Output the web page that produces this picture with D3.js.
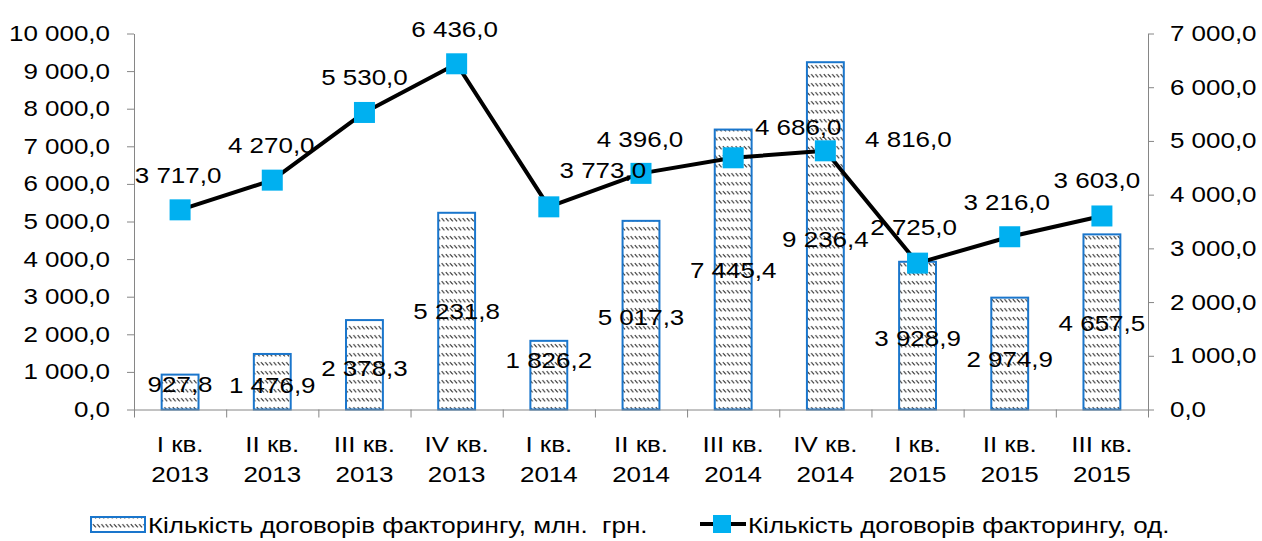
<!DOCTYPE html>
<html><head><meta charset="utf-8">
<script src="https://cdn.jsdelivr.net/npm/d3@7"></script>
<style>
body{margin:0;background:#fff}
svg{display:block}
text{font-family:"Liberation Sans",Arial,sans-serif;font-size:22px;fill:#000}
</style>
</head><body>
<svg id="c" width="1262" height="541"></svg>
<script>
// ---- data ----
const categories = ["I кв. 2013","II кв. 2013","III кв. 2013","IV кв. 2013","I кв. 2014","II кв. 2014","III кв. 2014","IV кв. 2014","I кв. 2015","II кв. 2015","III кв. 2015"];
const amountValues = [927.8,1476.9,2378.3,5231.8,1826.2,5017.3,7445.4,9236.4,3928.9,2974.9,4657.5];
const countValues = [3717,4270,5530,6436,3773,4396,4686,4816,2725,3216,3603];
const leftTicks = [0,1000,2000,3000,4000,5000,6000,7000,8000,9000,10000];
const rightTicks = [0,1000,2000,3000,4000,5000,6000,7000];
const seriesNames = ["Кількість договорів факторингу, млн.  грн.","Кількість договорів факторингу, од."];

// ---- layout (label nudges, not data) ----
const barLabelDy = [-8,3,3,0,-15,2,1,3,2,6,1];
const lineLabelShift = [[-2,0],[-1,0],[0,0],[-2,0],[54,-2],[-1,1],[65,4],[83,23],[-4,-1],[-3,0],[-5,-1]];

const SX = 1.18;
const svg = d3.select("#c");
const L = 134, R = 1148, T = 33.5, B = 409.5;
const axisColor = "#868686";
const barStroke = "#1a76cc";
const markerColor = "#00b0f0";

const loc = d3.formatLocale({decimal:",", thousands:" ", grouping:[3], currency:["",""]});
const fmt = loc.format(",.1f");

function stretch(sel){
  sel.each(function(){
    const t = d3.select(this);
    const x = +t.attr("x") || 0, y = +t.attr("y") || 0;
    t.attr("transform", `translate(${x},${y}) scale(${SX},1) translate(${-x},${-y})`);
  });
}

const defs = svg.append("defs");
const pat = defs.append("pattern").attr("id","hatch").attr("patternUnits","userSpaceOnUse")
  .attr("width",4.2).attr("height",9);
pat.append("rect").attr("width",4.2).attr("height",9).attr("fill","#fff");
pat.append("path").attr("d","M0.6,2.2 L3.4,5.4").attr("stroke","#3a3a3a").attr("stroke-width",1.1);

const x = d3.scaleBand().domain(categories).range([L,R]).paddingInner(0.6).paddingOuter(0.3);
const bw = x.bandwidth();
const yL = d3.scaleLinear().domain([0,10000]).range([B,T]);
const yR = d3.scaleLinear().domain([0,7000]).range([B,T]);
const idx = d3.scaleLinear().domain([0,categories.length]).range([L,R]);

// bars
svg.append("g").selectAll("rect").data(amountValues).join("rect")
  .attr("x",(d,i)=>x(categories[i])).attr("width",bw)
  .attr("y",d=>yL(d)).attr("height",d=>B-yL(d))
  .attr("fill","url(#hatch)").attr("stroke",barStroke).attr("stroke-width",2);

// axes
function styleAxis(g){
  g.selectAll(".domain, .tick line").attr("stroke",axisColor).attr("stroke-width",1);
}
const gl = svg.append("g").attr("transform",`translate(${L},0)`)
  .call(d3.axisLeft(yL).tickValues(leftTicks).tickFormat(fmt).tickSizeInner(7).tickSizeOuter(0).tickPadding(17));
styleAxis(gl); stretch(gl.selectAll("text"));

const gr = svg.append("g").attr("transform",`translate(${R},0)`)
  .call(d3.axisRight(yR).tickValues(rightTicks).tickFormat(fmt).tickSizeInner(6).tickSizeOuter(0).tickPadding(16));
styleAxis(gr); stretch(gr.selectAll("text"));

const gb = svg.append("g").attr("transform",`translate(0,${B})`)
  .call(d3.axisBottom(idx).tickValues(d3.range(categories.length+1)).tickFormat("").tickSizeInner(8).tickSizeOuter(0));
styleAxis(gb);

const gc = svg.append("g").attr("transform",`translate(0,${B})`)
  .call(d3.axisBottom(x).tickSize(0).tickFormat(()=>""));
gc.select(".domain").remove();
gc.selectAll(".tick text").each(function(d){
  const t = d3.select(this).attr("y",0).attr("dy",null);
  const k = d.lastIndexOf(" ");
  t.append("tspan").attr("x",0).attr("y",43).text(d.slice(0,k));
  t.append("tspan").attr("x",0).attr("y",73).text(d.slice(k+1));
});
stretch(gc.selectAll(".tick text"));

// bar labels
svg.append("g").selectAll("text").data(amountValues).join("text")
  .attr("text-anchor","middle")
  .attr("x",(d,i)=>x(categories[i])+bw/2)
  .attr("y",(d,i)=>(B+yL(d))/2 + barLabelDy[i])
  .attr("dy","0.36em")
  .text(d=>fmt(d))
  .call(stretch);

// line
const pts = countValues.map((v,i)=>[x(categories[i])+bw/2, yR(v)]);
svg.append("path").attr("d",d3.line()(pts)).attr("fill","none")
  .attr("stroke","#000").attr("stroke-width",4).attr("stroke-linejoin","round");
const ms = 21;
svg.append("g").selectAll("rect").data(pts).join("rect")
  .attr("x",d=>d[0]-ms/2).attr("y",d=>d[1]-ms/2).attr("width",ms).attr("height",ms)
  .attr("fill",markerColor);

// line labels
svg.append("g").selectAll("text").data(countValues).join("text")
  .attr("text-anchor","middle")
  .attr("x",(d,i)=>pts[i][0]+lineLabelShift[i][0])
  .attr("y",(d,i)=>pts[i][1]-27+lineLabelShift[i][1])
  .text(d=>fmt(d))
  .call(stretch);

// legend
const lg = svg.append("g");
lg.append("rect").attr("x",91).attr("y",517).attr("width",54).attr("height",15)
  .attr("fill","url(#hatch)").attr("stroke",barStroke).attr("stroke-width",2);
lg.append("text").attr("x",148).attr("y",533).style("white-space","pre").text(seriesNames[0]).call(stretch);
lg.append("line").attr("x1",700).attr("x2",746).attr("y1",524).attr("y2",524).attr("stroke","#000").attr("stroke-width",4);
lg.append("rect").attr("x",713).attr("y",515).attr("width",18).attr("height",18).attr("fill",markerColor);
lg.append("text").attr("x",748).attr("y",533).text(seriesNames[1]).call(stretch);
</script>
</body></html>
